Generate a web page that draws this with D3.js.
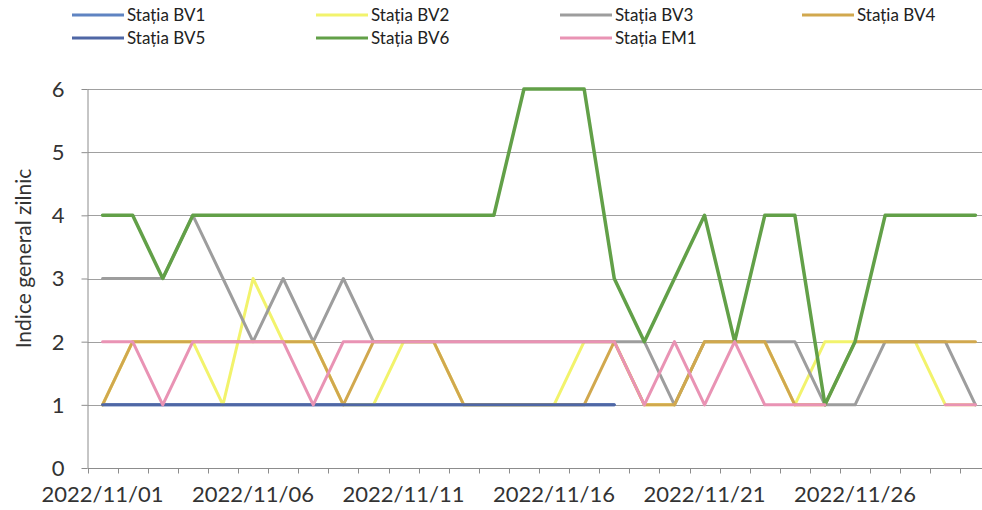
<!DOCTYPE html>
<meta charset="utf-8">
<style>
  body { margin: 0; background: #fff; }
  svg { display: block; font-family: Lato, "Open Sans", sans-serif; }
  .grid line { stroke: #a0a0a0; stroke-width: 1; }
  .axis path, .axis line { stroke: #8c8c8c; }
  .axis text { fill: #333; font-family: Lato, "Open Sans", sans-serif; }
</style>
<body>
<script src="https://d3js.org/d3.v7.min.js"></script>
<script>
// categories (one per day)
var days = ["2022/11/01","2022/11/02","2022/11/03","2022/11/04","2022/11/05",
            "2022/11/06","2022/11/07","2022/11/08","2022/11/09","2022/11/10",
            "2022/11/11","2022/11/12","2022/11/13","2022/11/14","2022/11/15",
            "2022/11/16","2022/11/17","2022/11/18","2022/11/19","2022/11/20",
            "2022/11/21","2022/11/22","2022/11/23","2022/11/24","2022/11/25",
            "2022/11/26","2022/11/27","2022/11/28","2022/11/29","2022/11/30"];
var xTickLabels = ["2022/11/01","2022/11/06","2022/11/11","2022/11/16","2022/11/21","2022/11/26"];
var yTicks = [0, 1, 2, 3, 4, 5, 6];

// daily index per station (null = no data)
var bv1 = [1,1,1,1,1,1,1,1,1,1,1,1,1,1,1,1,1,1,null,null,null,null,null,null,null,null,null,null,null,null];
var bv2 = [1,2,2,2,1,3,2,2,1,1,2,2,1,1,1,1,2,2,1,1,2,2,2,1,2,2,2,2,1,1];
var bv3 = [3,3,3,4,3,2,3,2,3,2,2,2,2,2,2,2,2,2,2,1,2,2,2,2,1,1,2,2,2,1];
var bv4 = [1,2,2,2,2,2,2,2,1,2,2,2,1,1,1,1,1,2,1,1,2,2,2,1,1,2,2,2,2,2];
var bv5 = [1,1,1,1,1,1,1,1,1,1,1,1,1,1,1,1,1,1,null,null,null,null,null,null,null,null,null,null,null,null];
var bv6 = [4,4,3,4,4,4,4,4,4,4,4,4,4,4,6,6,6,3,2,3,4,2,4,4,1,2,4,4,4,4];
var em1 = [2,2,1,2,2,2,2,1,2,2,2,2,2,2,2,2,2,2,1,2,1,2,1,1,1,null,null,null,1,1];

var seriesNames  = ["Stația BV1","Stația BV2","Stația BV3","Stația BV4","Stația BV5","Stația BV6","Stația EM1"];
var seriesValues = [bv1, bv2, bv3, bv4, bv5, bv6, em1];
var seriesColors = ["#5f84c2","#f2f36c","#9d9d9d","#d1a84e","#4f67a5","#62a048","#e993b4"];

var W = 982, H = 510;
var plotL = 87.5, plotR = 990.5, plotT = 89, plotB = 468;

var svg = d3.select("body").append("svg")
    .attr("width", W)
    .attr("height", H);

var x = d3.scaleBand().domain(days).range([plotL, plotR]).padding(0);
var cx = function(d) { return x(d) + x.bandwidth() / 2; };
var y = d3.scaleLinear().domain([0, 6]).range([plotB, plotT]);

// horizontal grid
svg.append("g")
    .attr("class", "grid")
  .selectAll("line")
  .data(yTicks.slice(1))
  .enter().append("line")
    .attr("x1", plotL).attr("x2", plotR)
    .attr("y1", function(d) { return Math.round(y(d)) + 0.5; })
    .attr("y2", function(d) { return Math.round(y(d)) + 0.5; });

// y axis
var yAxis = svg.append("g")
    .attr("class", "axis")
    .attr("transform", "translate(" + plotL + ",0)")
    .call(d3.axisLeft(y).tickValues(yTicks).tickFormat(d3.format("d"))
            .tickSize(6).tickPadding(17).tickSizeOuter(0));
yAxis.selectAll("text").style("font-size", "22px").attr("dy", "0.34em");
yAxis.select(".domain").attr("d", "M0.5," + plotT + "V" + plotB);

// x axis line + boundary ticks
var xAxis = svg.append("g")
    .attr("class", "axis")
    .attr("transform", "translate(0," + (Math.round(plotB) + 0.5) + ")");
xAxis.append("path")
    .attr("class", "domain")
    .attr("d", "M" + plotL + ",0H" + plotR);
xAxis.selectAll(".bt")
  .data(days)
  .enter().append("line")
    .attr("class", "bt")
    .attr("x1", function(d) { return Math.round(x(d)) + 0.5; })
    .attr("x2", function(d) { return Math.round(x(d)) + 0.5; })
    .attr("y1", 0).attr("y2", 5);

// x tick labels
var xLab = svg.append("g")
    .attr("class", "axis")
    .attr("transform", "translate(0," + plotB + ")")
    .call(d3.axisBottom(x).tickValues(xTickLabels).tickSize(0).tickPadding(18));
xLab.select(".domain").remove();
xLab.selectAll("text").style("font-size", "22px");

// y axis title
svg.append("text")
    .attr("transform", "translate(31," + ((plotT + plotB) / 2 - 20) + ") rotate(-90)")
    .attr("text-anchor", "middle")
    .style("font-size", "21px")
    .style("fill", "#333")
    .text("Indice general zilnic");

// lines
var line = d3.line()
    .defined(function(v) { return v != null; })
    .x(function(v, i) { return cx(days[i]); })
    .y(function(v) { return y(v); });

svg.append("g")
  .selectAll("path")
  .data(seriesValues)
  .enter().append("path")
    .attr("fill", "none")
    .attr("stroke", function(d, i) { return seriesColors[i]; })
    .attr("stroke-width", function(d, i) { return i == 5 ? 3.5 : 3; })
    .attr("stroke-linejoin", "round")
    .attr("stroke-linecap", "round")
    .attr("d", line);

// legend
var legX = [72, 316, 560, 802];
var legY = [15, 38];
var leg = svg.append("g")
  .selectAll("g")
  .data(seriesNames)
  .enter().append("g")
    .attr("transform", function(d, i) { return "translate(" + legX[i % 4] + "," + legY[Math.floor(i / 4)] + ")"; });
leg.append("line")
    .attr("x1", 0).attr("x2", 52)
    .attr("stroke", function(d, i) { return seriesColors[i]; })
    .attr("stroke-width", 3);
leg.append("text")
    .attr("x", 55)
    .attr("dy", "0.35em")
    .style("font-size", "17px")
    .style("fill", "#222")
    .text(function(d) { return d; });
</script>
</body>
